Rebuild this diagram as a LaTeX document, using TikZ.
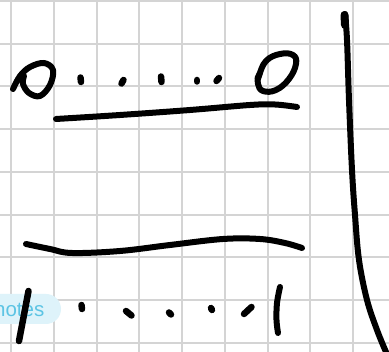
\documentclass[tikz,border=0pt]{standalone}
\usepackage{fontspec}
\setmainfont{Liberation Sans}
\definecolor{gridc}{RGB}{212,212,212}
\definecolor{badgebg}{RGB}{222,243,250}
\definecolor{badgetx}{RGB}{92,196,228}
\begin{document}
\begin{tikzpicture}[x=1pt,y=-1pt,
  ink/.style={line width=6pt,line cap=round,line join=round,black},
  dotmark/.style={line width=6.5pt,line cap=round,black},
  gridline/.style={line width=2pt,gridc}]
\useasboundingbox (0,0) rectangle (389,352);
\fill[white] (0,0) rectangle (389,352);
% grid
\foreach \k in {0,...,8} {
  \draw[gridline] ({11+42.75*\k},0) -- ({11+42.75*\k},352);
  \draw[gridline] (0,{1+42.75*\k}) -- (389,{1+42.75*\k});
}
% notes badge
\node[fill=badgebg,rounded corners=15pt,minimum width=80pt,minimum height=30pt,inner sep=0pt] (badge) at (21,309) {};
\node[anchor=base west,inner sep=0pt,text=badgetx,font=\fontsize{20.5}{20}\selectfont] (notes) at (-6,317) {notes};
% left zero
\draw[ink] plot[smooth,tension=0.6] coordinates {(13,89) (20,76) (30,67) (44,63) (53,70) (50,85) (40,96) (29,93) (23,84) (24,76)};
% top dots
\draw[dotmark] (80.5,77.5) -- (81,82);
\draw[dotmark] (123.5,80) -- (121.5,83.5);
\draw[dotmark] (161,76.5) -- (161.5,82);
\draw[dotmark] (197,80) -- (197,81.5);
\draw[dotmark] (219,78) -- (216.5,81);
% right zero
\draw[ink] plot[smooth cycle,tension=0.7] coordinates {(259,76) (266,61) (280,54) (293,55) (296,64) (289,79) (276,90) (263,91) (258,84)};
\draw[ink] (257.5,78) -- (259.5,74);
% top bar
\draw[ink] plot[smooth,tension=0.6] coordinates {(56,119) (120,115) (190,110) (250,105) (275,104.5) (297,107)};
% right vertical line
\draw[ink] plot[smooth,tension=0.6] coordinates {(345,14) (347,40) (349,100) (352,170) (355,215) (359,260) (367,300) (377,330) (386,352)};
\draw[line width=8pt,line cap=round] (344.5,15) -- (345,25);
% lower bar
\draw[ink] plot[smooth,tension=0.6] coordinates {(26,244) (50,249) (72,253) (120,251) (170,245) (223,239) (260,239) (285,243) (302,248)};
% bottom dots
\draw[dotmark] (81.5,305) -- (82,309);
\draw[dotmark] (126,311) -- (131.5,315.5);
\draw[dotmark] (169,312.5) -- (171,314.5);
\draw[dotmark] (211,308) -- (212,310);
\draw[dotmark] (244,314) -- (251.5,307);
% bottom left slash
\draw[ink,line width=6.5pt] (28.5,291) -- (19,341);
% bottom bracket
\draw[ink] plot[smooth,tension=0.6] coordinates {(280,287) (277,303) (276.5,320) (278,333)};
\end{tikzpicture}
\end{document}
